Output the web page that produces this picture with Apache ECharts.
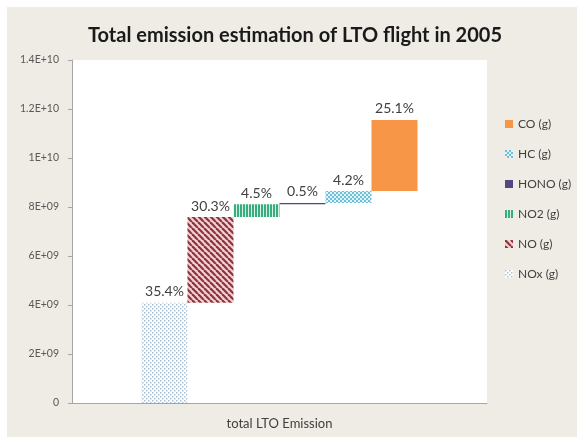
<!DOCTYPE html>
<html>
<head>
<meta charset="utf-8">
<script src="https://cdn.jsdelivr.net/npm/echarts@6/dist/echarts.min.js"></script>
<style>
  html, body { margin: 0; padding: 0; background: #ffffff; }
  #chart { width: 577px; height: 440px; }
</style>
</head>
<body>
<div id="chart"></div>
<script>
// Emission components of LTO flights, 2005 (grams)
const categories = ['total LTO Emission'];
const seriesNames = ['NOx (g)', 'NO (g)', 'NO2 (g)', 'HONO (g)', 'HC (g)', 'CO (g)'];
const emissionValues = [4.09e9, 3.50e9, 0.52e9, 0.058e9, 0.485e9, 2.90e9];
const yTickLabels = ['0', '2E+09', '4E+09', '6E+09', '8E+09', '1E+10', '1.2E+10', '1.4E+10'];

const FONT = 'Lato, "Open Sans", sans-serif';
const total = emissionValues.reduce((a, b) => a + b, 0);

// Small canvas tiles used as repeating fills
function tile(w, h, draw) {
  const c = document.createElement('canvas');
  c.width = w; c.height = h;
  draw(c.getContext('2d'), w, h);
  return { image: c, repeat: 'repeat' };
}

const fills = [
  // NOx: light dots
  tile(4, 4, (g) => {
    g.fillStyle = '#ffffff'; g.fillRect(0, 0, 4, 4);
    g.fillStyle = '#a9bfd3';
    g.fillRect(0, 0, 1.5, 1.5); g.fillRect(2, 2, 1.5, 1.5);
  }),
  // NO: dark red diagonal stripes on pink
  tile(6, 6, (g) => {
    g.fillStyle = '#f6cfd0'; g.fillRect(0, 0, 6, 6);
    g.strokeStyle = '#8a3440'; g.lineWidth = 2.2;
    for (let k = -6; k <= 6; k += 6) {
      g.beginPath(); g.moveTo(k, 0); g.lineTo(k + 6, 6); g.stroke();
    }
  }),
  // NO2: vertical green stripes
  tile(3, 2, (g) => {
    g.fillStyle = '#d9f2e6'; g.fillRect(0, 0, 3, 2);
    g.fillStyle = '#39ad80'; g.fillRect(0, 0, 2, 2);
  }),
  // HONO: solid purple
  '#54467f',
  // HC: light blue checker
  tile(4, 4, (g) => {
    g.fillStyle = '#e2f3f8'; g.fillRect(0, 0, 4, 4);
    g.fillStyle = '#6cc0d8';
    g.fillRect(0, 0, 2, 2); g.fillRect(2, 2, 2, 2);
  }),
  // CO: solid orange
  '#f79646'
];

const series = [];
let running = 0;
emissionValues.forEach((v, i) => {
  // invisible base lifting each segment to the running total
  series.push({
    name: 'base' + i,
    type: 'bar',
    stack: 'seg' + i,
    data: [running],
    barWidth: 46,
    barGap: '0%',
    silent: true,
    itemStyle: { color: 'rgba(0,0,0,0)' },
    emphasis: { disabled: true }
  });
  series.push({
    name: seriesNames[i],
    type: 'bar',
    stack: 'seg' + i,
    data: [v],
    barWidth: 46,
    barGap: '0%',
    itemStyle: { color: fills[i] },
    label: {
      show: true,
      position: 'top',
      distance: 4,
      color: '#404040',
      fontFamily: FONT,
      fontSize: 14,
      formatter: () => (v / total * 100).toFixed(1) + '%'
    }
  });
  running += v;
});

const chart = echarts.init(document.getElementById('chart'), null, { renderer: 'canvas' });
chart.setOption({
  animation: false,
  backgroundColor: '#ffffff',
  graphic: [{
    type: 'rect', z: -10, silent: true,
    shape: { x: 7, y: 7, width: 570, height: 430 },
    style: { fill: '#eeece4' }
  }],
  title: {
    text: 'Total emission estimation of LTO flight in 2005',
    left: 290, top: 21, textAlign: 'center',
    textStyle: { fontFamily: FONT, fontSize: 20, fontWeight: 'bold', color: '#1a1a1a' }
  },
  grid: {
    left: 72, right: 90, top: 60, bottom: 37,
    show: true, backgroundColor: '#ffffff', borderWidth: 0
  },
  legend: {
    orient: 'vertical',
    left: 500, top: 113,
    itemWidth: 8, itemHeight: 8, itemGap: 18,
    icon: 'rect',
    data: seriesNames.slice().reverse(),
    textStyle: { fontFamily: FONT, fontSize: 12, color: '#404040' },
    selectedMode: false
  },
  xAxis: {
    type: 'category',
    data: categories,
    axisLine: { lineStyle: { color: '#a6a6a6' } },
    axisTick: { show: false },
    axisLabel: { color: '#404040', fontFamily: FONT, fontSize: 13, margin: 14 }
  },
  yAxis: {
    type: 'value',
    min: 0, max: 1.4e10, interval: 2e9,
    axisLine: { show: true, lineStyle: { color: '#a6a6a6' } },
    axisTick: { show: true, length: 4, lineStyle: { color: '#a6a6a6' } },
    splitLine: { show: false },
    axisLabel: {
      color: '#595959', fontFamily: FONT, fontSize: 10.5, margin: 13,
      formatter: (val) => yTickLabels[Math.round(val / 2e9)]
    }
  },
  series: series
});
</script>
</body>
</html>
